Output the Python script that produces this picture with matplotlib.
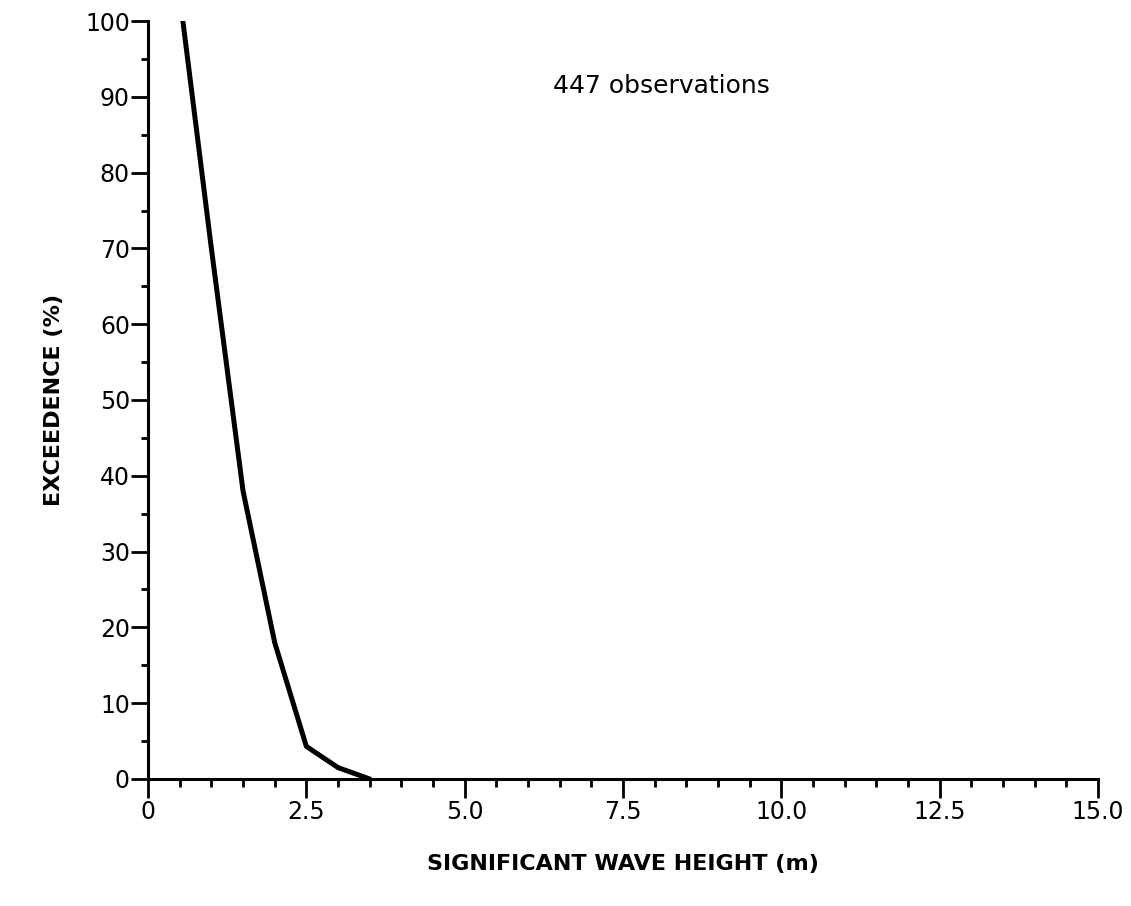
import matplotlib
matplotlib.use('Agg')
import matplotlib.pyplot as plt
from matplotlib.ticker import MultipleLocator

# Exceedence curve
wave_height = [0.55, 1.0, 1.5, 2.0, 2.5, 3.0, 3.5]
exceedence = [100, 70, 38, 18, 4.3, 1.5, 0]

x_ticks = [0, 2.5, 5.0, 7.5, 10.0, 12.5, 15.0]
x_labels = ['0', '2.5', '5.0', '7.5', '10.0', '12.5', '15.0']
y_ticks = [0, 10, 20, 30, 40, 50, 60, 70, 80, 90, 100]

plt.rcParams['font.family'] = ['DejaVu Sans']

fig = plt.figure(figsize=(11.31, 9.06), dpi=100)
ax = fig.add_axes([0.1309, 0.1402, 0.8399, 0.8366])

ax.plot(wave_height, exceedence, color='black', linewidth=3.6,
        solid_capstyle='round', solid_joinstyle='round')

ax.set_xlim(0, 15)
ax.set_ylim(0, 100)

# Axis styling: only left and bottom spines
for side in ['top', 'right']:
    ax.spines[side].set_visible(False)
for side in ['left', 'bottom']:
    ax.spines[side].set_linewidth(2.2)

ax.set_xticks(x_ticks)
ax.set_xticklabels(x_labels)
ax.set_yticks(y_ticks)
ax.xaxis.set_minor_locator(MultipleLocator(0.5))
ax.yaxis.set_minor_locator(MultipleLocator(5))

ax.tick_params(axis='x', which='major', direction='out', length=14, width=2,
               labelsize=17, pad=1)
ax.tick_params(axis='x', which='minor', direction='out', length=6, width=2)
ax.tick_params(axis='y', which='major', direction='out', length=12, width=2,
               labelsize=17, pad=1)
ax.tick_params(axis='y', which='minor', direction='out', length=5, width=2)

ax.set_xlabel('SIGNIFICANT WAVE HEIGHT (m)', fontsize=16, fontweight='bold',
              labelpad=22)
ax.set_ylabel('EXCEEDENCE (%)', fontsize=16, fontweight='bold', labelpad=15)

ax.text(0.54, 0.914, '447 observations', transform=ax.transAxes,
        fontsize=18, ha='center', va='center')

fig.savefig('out.png', dpi=100)
